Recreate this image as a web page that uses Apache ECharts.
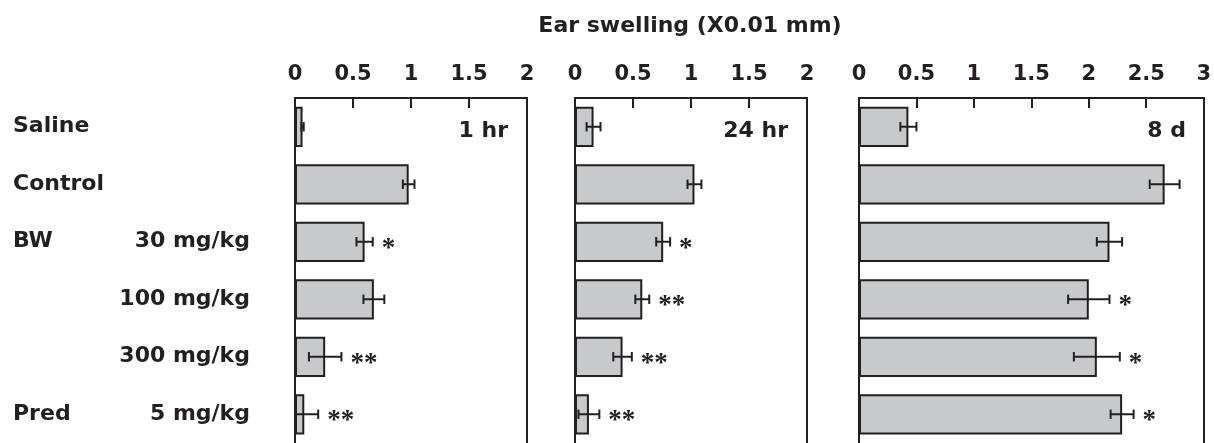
<!DOCTYPE html>
<html><head><meta charset="utf-8">
<script src="https://cdn.jsdelivr.net/npm/echarts@6/dist/echarts.min.js"></script>
<style>html,body{margin:0;padding:0;background:#fff}#c{width:1214px;height:443px}</style>
</head><body><div id="c"></div>
<script>
const groupLabels = ['Saline', 'Control', 'BW', '', '', 'Pred'];
const doseLabels = ['', '', '30 mg/kg', '100 mg/kg', '300 mg/kg', '5 mg/kg'];
const panelTitles = ['1 hr', '24 hr', '8 d'];
const axisTitle = 'Ear swelling (X0.01 mm)';
const axisMax = [2, 2, 3];

const values1h = [0.065, 0.98, 0.60, 0.68, 0.26, 0.08];
const errors1h = [0.01, 0.05, 0.07, 0.09, 0.14, 0.12];
const marks1h = ['', '', '*', '', '**', '**'];

const values24h = [0.16, 1.03, 0.76, 0.58, 0.41, 0.12];
const errors24h = [0.06, 0.06, 0.06, 0.06, 0.08, 0.09];
const marks24h = ['', '', '*', '**', '**', '**'];

const values8d = [0.43, 2.66, 2.18, 2.00, 2.07, 2.29];
const errors8d = [0.07, 0.13, 0.11, 0.18, 0.20, 0.10];
const marks8d = ['', '', '', '*', '*', '*'];

const panels = [
  {values: values1h, errors: errors1h, marks: marks1h},
  {values: values24h, errors: errors24h, marks: marks24h},
  {values: values8d, errors: errors8d, marks: marks8d}
];

const INK = '#231f20';
const FONT = 'DejaVu Sans';
const gridBoxes = [
  {left: 295, width: 232},
  {left: 575, width: 232},
  {left: 859, width: 346}
];
const GTOP = 98, GH = 345;
const cats = groupLabels.map((g, i) => g + '|' + doseLabels[i]);

const grids = [], xAxes = [], yAxes = [], series = [], titles = [];
titles.push({text: axisTitle, left: 690, top: 15, textAlign: 'center', padding: 0,
  textStyle: {fontFamily: FONT, fontWeight: 'bold', fontSize: 22, color: INK}});

gridBoxes.forEach((g, i) => {
  grids.push({left: g.left, width: g.width, top: GTOP, height: GH, containLabel: false});
  xAxes.push({
    type: 'value', gridIndex: i, position: 'top', min: 0, max: axisMax[i], interval: 0.5,
    axisLine: {show: true, lineStyle: {color: INK, width: 2}},
    axisTick: {show: true, inside: true, length: 10, lineStyle: {color: INK, width: 2}},
    splitLine: {show: false},
    axisLabel: {fontFamily: FONT, fontWeight: 'bold', fontSize: 21, color: INK, margin: 13}
  });
  const leftIdx = yAxes.length;
  yAxes.push({
    type: 'category', gridIndex: i, position: 'left', inverse: true, data: cats,
    axisLine: {show: true, lineStyle: {color: INK, width: 2}},
    axisTick: {show: false},
    axisLabel: i === 0 ? {show: true, margin: 45, align: 'right', fontFamily: FONT, fontWeight: 'bold',
      fontSize: 22, color: INK, formatter: (v, k) => doseLabels[k]} : {show: false}
  });
  yAxes.push({
    type: 'category', gridIndex: i, position: 'right', inverse: true, data: cats,
    axisLine: {show: true, lineStyle: {color: INK, width: 2}},
    axisTick: {show: false}, axisLabel: {show: false}
  });
  if (i === 0) {
    yAxes.push({
      type: 'category', gridIndex: 0, position: 'left', inverse: true, data: cats,
      axisLine: {show: false}, axisTick: {show: false},
      axisLabel: {show: true, margin: 282, align: 'left', fontFamily: FONT, fontWeight: 'bold',
        fontSize: 22, color: INK, formatter: (v, k) => groupLabels[k]}
    });
  }
  const p = panels[i];
  series.push({
    type: 'bar', xAxisIndex: i, yAxisIndex: leftIdx, data: p.values, barWidth: '70%',
    itemStyle: {color: '#c8c9cb', borderColor: INK, borderWidth: 2}, z: 2, silent: true
  });
  series.push({
    type: 'custom', xAxisIndex: i, yAxisIndex: leftIdx, z: 5, silent: true,
    data: p.values.map((v, k) => [v, k]),
    renderItem: function (params, api) {
      const k = params.dataIndex;
      const v = api.value(0), c = api.value(1), e = p.errors[k];
      const lo = api.coord([Math.max(0, v - e), c]);
      const hi = api.coord([v + e, c]);
      const y = hi[1], h = 4.7;
      const st = {stroke: INK, lineWidth: 2};
      const children = [
        {type: 'line', shape: {x1: lo[0], y1: y, x2: hi[0], y2: y}, style: st},
        {type: 'line', shape: {x1: lo[0], y1: y - h, x2: lo[0], y2: y + h}, style: st},
        {type: 'line', shape: {x1: hi[0], y1: y - h, x2: hi[0], y2: y + h}, style: st}
      ];
      if (p.marks[k]) {
        children.push({type: 'text', x: hi[0] + 9, y: y + 7,
          style: {text: p.marks[k], font: 'bold 27px "Liberation Serif"', fill: INK, align: 'left', verticalAlign: 'middle'}});
      }
      return {type: 'group', children: children};
    }
  });
  titles.push({text: panelTitles[i], right: 1214 - (g.left + g.width) + 19, top: 120, padding: 0,
    textStyle: {fontFamily: FONT, fontWeight: 'bold', fontSize: 22, color: INK}});
});

const chart = echarts.init(document.getElementById('c'), null, {renderer: 'canvas'});
chart.setOption({
  animation: false, backgroundColor: '#fff',
  title: titles, grid: grids, xAxis: xAxes, yAxis: yAxes, series: series
});
</script>
</body></html>
